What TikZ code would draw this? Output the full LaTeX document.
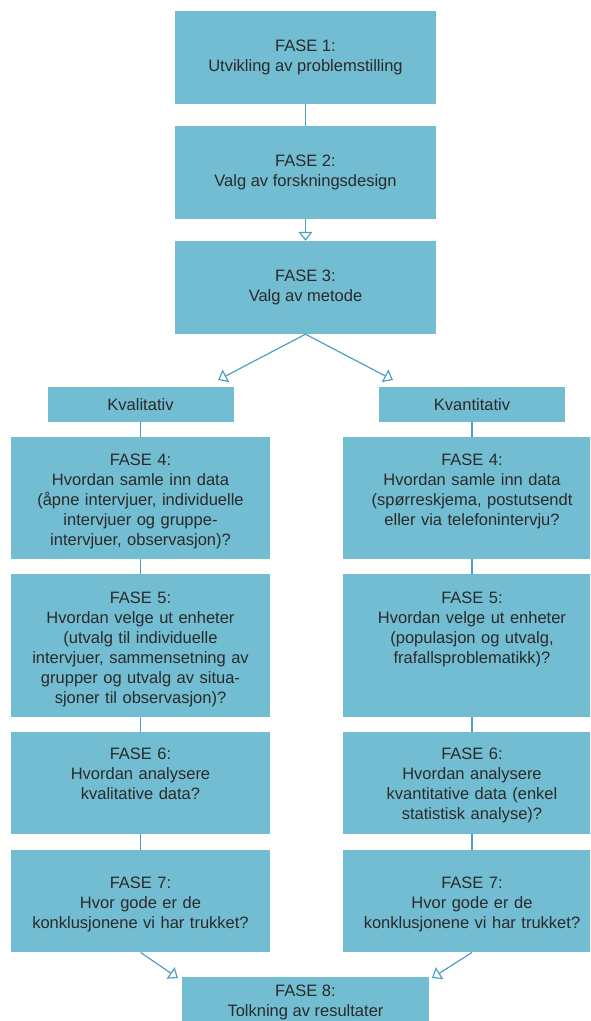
\documentclass[tikz,border=0pt]{standalone}
\usepackage{fontspec}
\setmainfont{Liberation Sans}
\usetikzlibrary{arrows.meta}
\definecolor{boxblue}{HTML}{72BDD1}
\definecolor{lineblue}{HTML}{4F9FC2}
\definecolor{txt}{HTML}{2A2A2A}

\tikzset{
  fase/.style={fill=boxblue, inner sep=0pt, text=txt, align=center},
  colbox/.style={fase, minimum width=259pt, anchor=north},
  fasetxt/.style={text=txt, align=center, text width=255pt, inner sep=0pt, anchor=base},
  link/.style={draw=lineblue, line width=1.2pt},
  arr/.style={link, -{Triangle[open, length=9pt, width=14pt]}},
}

\begin{document}
\begin{tikzpicture}[x=1pt, y=-1pt, font=\fontsize{16.5}{20}\selectfont]
  \useasboundingbox (0,0) rectangle (590,1021);
  \clip (0,0) rectangle (590,1021);

  % common phases
  \node[fase, minimum width=261pt, minimum height=93pt] (f1) at (305.5,57.5)
    {FASE 1:\\Utvikling av problemstilling};
  \node[fase, minimum width=261pt, minimum height=93pt] (f2) at (305.5,172.5)
    {FASE 2:\\Valg av forskningsdesign};
  \node[fase, minimum width=261pt, minimum height=93pt] (f3) at (305.5,287.5)
    {FASE 3:\\Valg av metode};

  % the two branches
  \node[fase, minimum width=186pt, minimum height=35pt] (kval) at (140.5,404.5) {Kvalitativ};
  \node[fase, minimum width=186pt, minimum height=35pt] (kvant) at (472,404.5) {Kvantitativ};

  % column boxes: name / top / height / baseline offset / left text / right text
  \foreach \nm/\top/\h/\off/\lt/\rt in {
     f4/437/122/28/{FASE 4:\\Hvordan samle inn data\\(åpne intervjuer, individuelle\\intervjuer og gruppe-\\intervjuer, observasjon)?}/{FASE 4:\\Hvordan samle inn data\\(spørreskjema, postutsendt\\eller via telefonintervju?},
     f5/574/143/29/{FASE 5:\\Hvordan velge ut enheter\\(utvalg til individuelle\\intervjuer, sammensetning av\\grupper og utvalg av situa-\\sjoner til observasjon)?}/{FASE 5:\\Hvordan velge ut enheter\\(populasjon og utvalg,\\frafallsproblematikk)?},
     f6/732/102/27/{FASE 6:\\Hvordan analysere\\kvalitative data?}/{FASE 6:\\Hvordan analysere\\kvantitative data (enkel\\statistisk analyse)?},
     f7/850/102/38/{FASE 7:\\Hvor gode er de\\konklusjonene vi har trukket?}/{FASE 7:\\Hvor gode er de\\konklusjonene vi har trukket?}}{
       \node[colbox, minimum height=\h pt] (\nm l) at (140.5,\top) {};
       \node[fasetxt] (\nm l-t) at ([yshift=-\off pt]\nm l.north) {\lt};
       \node[colbox, minimum height=\h pt] (\nm r) at (472,\top) {};
       \node[fasetxt] (\nm r-t) at ([yshift=-\off pt]\nm r.north) {\rt};
  }

  \node[fase, minimum width=247pt, minimum height=50pt] (f8) at (305.5,1002)
    {FASE 8:\\Tolkning av resultater};

  % arrow ends
  \coordinate (kvaltip) at (218,380);
  \coordinate (kvanttip) at (393,380);
  \coordinate (f8tipl) at (178,978);
  \coordinate (f8tipr) at (432,978);

  \draw[link] (f1) -- (f2);
  \draw[arr] (f2) -- (f3);
  \draw[arr] (f3.south) -- (kvaltip);
  \draw[arr] (f3.south) -- (kvanttip);
  \foreach \a/\b in {kval/f4l, f4l/f5l, f5l/f6l, f6l/f7l,
                     kvant/f4r, f4r/f5r, f5r/f6r, f6r/f7r}
    \draw[link] (\a) -- (\b);
  \draw[arr] (f7l.south) -- (f8tipl);
  \draw[arr] (f7r.south) -- (f8tipr);
\end{tikzpicture}
\end{document}
